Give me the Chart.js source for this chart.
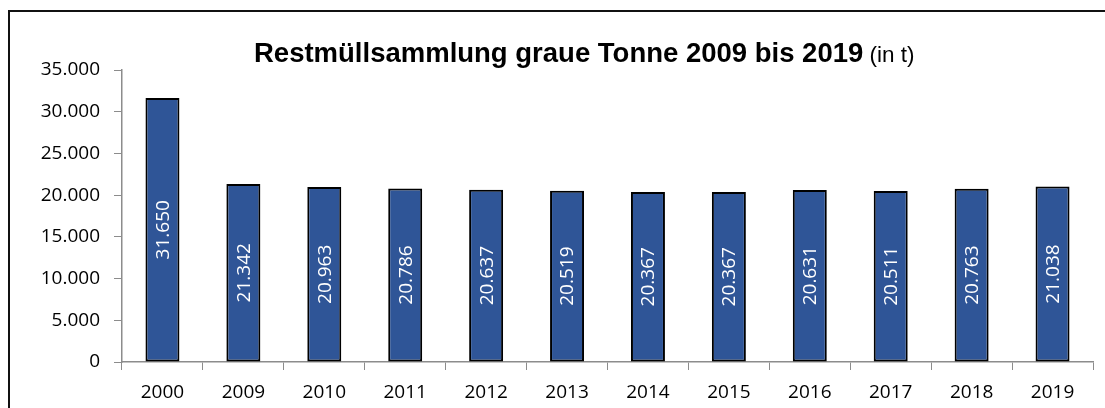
<!DOCTYPE html>
<html>
<head>
<meta charset="utf-8">
<script src="https://cdn.jsdelivr.net/npm/chart.js@4.4.1/dist/chart.umd.min.js"></script>
<style>
  html, body { margin: 0; padding: 0; background: #fff; overflow: hidden; }
  #wrap { position: relative; width: 1105px; height: 408px; overflow: hidden; }
  #title { position: absolute; left: 254px; top: 39px; line-height: 27px; white-space: nowrap;
           font-family: "Liberation Sans", Arial, sans-serif; color: #000; }
  #title b { font-size: 27.5px; }
  #title span { font-size: 22.5px; }
</style>
</head>
<body>
<div id="wrap">
  <canvas id="barChart" width="1105" height="408"></canvas>
  <div id="title"><b>Restmüllsammlung graue Tonne 2009 bis 2019</b><span> (in t)</span></div>
</div>
<script>
"use strict";

// data
var years = ["2000", "2009", "2010", "2011", "2012", "2013", "2014", "2015", "2016", "2017", "2018", "2019"];
var tonnes = [31650, 21342, 20963, 20786, 20637, 20519, 20367, 20367, 20631, 20511, 20763, 21038];
var yTicks = [0, 5000, 10000, 15000, 20000, 25000, 30000, 35000];

var barBlue = "#2F5597";
var axisGrey = "#8c8c8c";
var tickFont = { family: "'Open Sans', sans-serif", size: 19 };

function deNumber(v) {
    return String(Math.round(v)).replace(/\B(?=(\d{3})+(?!\d))/g, ".");
}

// outer frame, only left and top edges are visible in the picture
var frame = {
    id: "frame",
    beforeDraw: function (chart) {
        var ctx = chart.ctx;
        ctx.save();
        ctx.strokeStyle = "#111";
        ctx.lineWidth = 2;
        ctx.beginPath();
        ctx.moveTo(9, chart.height);
        ctx.lineTo(9, 11);
        ctx.lineTo(chart.width, 11);
        ctx.stroke();
        ctx.restore();
    }
};

// value labels, rotated inside the bars
var barLabels = {
    id: "barLabels",
    afterDatasetsDraw: function (chart) {
        var ctx = chart.ctx;
        var meta = chart.getDatasetMeta(0);
        ctx.save();
        ctx.fillStyle = "#ffffff";
        ctx.font = tickFont.size + "px " + tickFont.family;
        ctx.textAlign = "center";
        ctx.textBaseline = "middle";
        meta.data.forEach(function (bar, i) {
            var cy = (bar.y + bar.base) / 2;
            ctx.save();
            ctx.translate(bar.x, cy);
            ctx.rotate(-Math.PI / 2);
            ctx.fillText(deNumber(tonnes[i]), 0, 1);
            ctx.restore();
        });
        ctx.restore();
    }
};

var BARCHART = document.getElementById("barChart");
var myBarChart = new Chart(BARCHART, {
    type: "bar",
    plugins: [frame, barLabels],
    data: {
        labels: years,
        datasets: [
            {
                label: "Restmüll",
                data: tonnes,
                backgroundColor: barBlue,
                borderColor: "#000000",
                borderWidth: 2,
                borderSkipped: false,
                barPercentage: 0.42,
                categoryPercentage: 1.0,
            },
        ],
    },
    options: {
        responsive: false,
        animation: false,
        layout: {
            padding: { top: 70, right: 12, bottom: 0, left: 0 },
        },
        plugins: {
            legend: { display: false },
            title: { display: false },
            tooltip: { enabled: false },
        },
        scales: {
            x: {
                offset: true,
                grid: {
                    offset: true,
                    drawOnChartArea: false,
                    drawTicks: true,
                    tickLength: 8,
                    color: axisGrey,
                },
                border: { color: axisGrey, width: 1.5 },
                ticks: { color: "#000", font: tickFont, padding: 11, maxRotation: 0 },
                afterFit: function (scale) { scale.height = 46; },
            },
            y: {
                min: 0,
                max: 35000,
                afterBuildTicks: function (scale) {
                    scale.ticks = yTicks.map(function (v) { return { value: v }; });
                },
                grid: {
                    drawOnChartArea: false,
                    drawTicks: true,
                    tickLength: 8,
                    color: axisGrey,
                },
                border: { color: axisGrey, width: 1.5 },
                ticks: {
                    color: "#000",
                    font: tickFont,
                    padding: 14,
                    callback: function (v) { return deNumber(v); },
                },
                afterFit: function (scale) { scale.width = 122; },
            },
        },
    },
});
</script>
</body>
</html>
